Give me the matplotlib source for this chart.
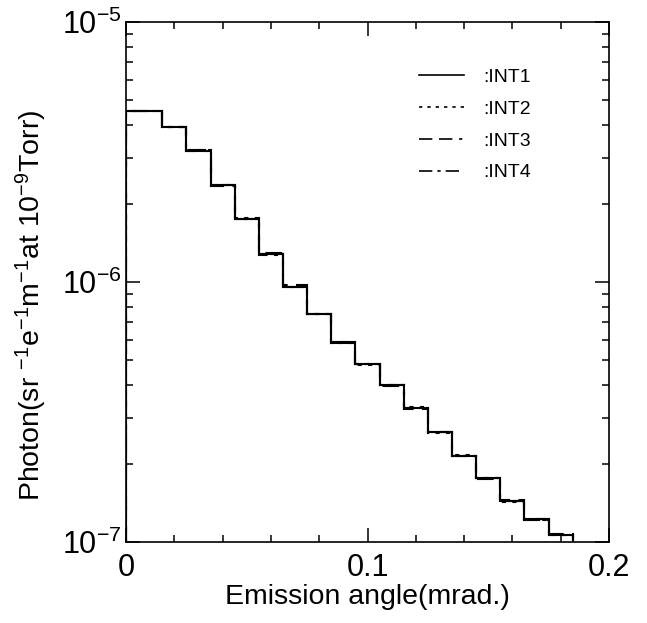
import matplotlib
matplotlib.use("Agg")
import matplotlib.pyplot as plt
from matplotlib.ticker import MultipleLocator, LogLocator, NullFormatter, FuncFormatter
from matplotlib.lines import Line2D

plt.rcParams['font.family'] = ['Liberation Sans', 'DejaVu Sans']
plt.rcParams['mathtext.fontset'] = 'custom'
plt.rcParams['mathtext.rm'] = 'Liberation Sans'
plt.rcParams['mathtext.it'] = 'Liberation Sans'
plt.rcParams['mathtext.bf'] = 'Liberation Sans'

# bin edges (mrad)
bin_edges = [0.0, 0.015, 0.025, 0.035, 0.045, 0.055, 0.065, 0.075, 0.085, 0.095,
             0.105, 0.115, 0.125, 0.135, 0.145, 0.155, 0.165, 0.175, 0.185]

int1 = [4.55e-6, 3.95e-6, 3.20e-6, 2.36e-6, 1.75e-6, 1.28e-6, 9.6e-7, 7.55e-7, 5.85e-7,
        4.83e-7, 4.01e-7, 3.27e-7, 2.65e-7, 2.15e-7, 1.76e-7, 1.44e-7, 1.23e-7, 1.06e-7]
int2 = [4.55e-6, 3.96e-6, 3.22e-6, 2.37e-6, 1.75e-6, 1.28e-6, 9.6e-7, 7.50e-7, 5.83e-7,
        4.80e-7, 4.03e-7, 3.30e-7, 2.63e-7, 2.16e-7, 1.77e-7, 1.43e-7, 1.22e-7, 1.06e-7]
int3 = [4.56e-6, 3.94e-6, 3.19e-6, 2.35e-6, 1.74e-6, 1.29e-6, 9.7e-7, 7.56e-7, 5.88e-7,
        4.85e-7, 3.99e-7, 3.26e-7, 2.66e-7, 2.14e-7, 1.75e-7, 1.45e-7, 1.23e-7, 1.07e-7]
int4 = [4.54e-6, 3.95e-6, 3.21e-6, 2.36e-6, 1.76e-6, 1.27e-6, 9.6e-7, 7.53e-7, 5.86e-7,
        4.82e-7, 4.00e-7, 3.28e-7, 2.64e-7, 2.15e-7, 1.76e-7, 1.44e-7, 1.22e-7, 1.06e-7]

series = [(":INT2", int2, (0, (2, 3))),
          (":INT3", int3, (0, (8, 4, 8, 4, 2, 4))),
          (":INT4", int4, (0, (8, 3, 2, 3))),
          (":INT1", int1, '-')]
legend_order = [":INT1", ":INT2", ":INT3", ":INT4"]

fig = plt.figure(figsize=(6.47, 6.23), dpi=100)
ax = fig.add_axes([126/647, 1 - 542/623, (609-126)/647, (542-22)/623])

for name, vals, ls in series:
    ax.stairs(vals, bin_edges, baseline=1e-7, color='black', lw=1.5, linestyle=ls, label=name)

ax.set_yscale('log')
ax.set_xlim(0, 0.2)
ax.set_ylim(1e-7, 1e-5)

ax.xaxis.set_major_locator(MultipleLocator(0.1))
ax.xaxis.set_minor_locator(MultipleLocator(0.02))
ax.xaxis.set_major_formatter(FuncFormatter(lambda v, p: f"{v:g}"))
ax.yaxis.set_major_locator(LogLocator(base=10, numticks=10))
ax.yaxis.set_minor_locator(LogLocator(base=10, subs=range(2, 10), numticks=20))
ax.yaxis.set_minor_formatter(NullFormatter())

ax.tick_params(which='both', direction='in', top=True, right=True, width=1.1)
ax.tick_params(axis='x', which='major', length=10, labelsize=22, pad=8)
ax.tick_params(axis='y', which='major', length=10, labelsize=22, pad=3)
ax.tick_params(which='minor', length=5)
for s in ax.spines.values():
    s.set_linewidth(1.2)

ax.set_xlabel("Emission angle(mrad.)", fontsize=20.5, labelpad=1)
ax.set_ylabel("Photon(sr $^{-1}$e$^{-1}$m$^{-1}$at 10$^{-9}$Torr)", fontsize=20.5)
ax.yaxis.set_label_coords(-0.160, 0.455)

lh = []
for name in legend_order:
    ls = [s[2] for s in series if s[0] == name][0]
    lh.append(Line2D([], [], color='black', lw=1.2, linestyle=ls))
ax.legend(lh, legend_order, loc='upper left', bbox_to_anchor=(0.5905, 0.9256), frameon=False,
          fontsize=14, handlelength=2.3, handletextpad=0.98, labelspacing=0.73,
          borderaxespad=0)

fig.savefig("out.png", dpi=100)
